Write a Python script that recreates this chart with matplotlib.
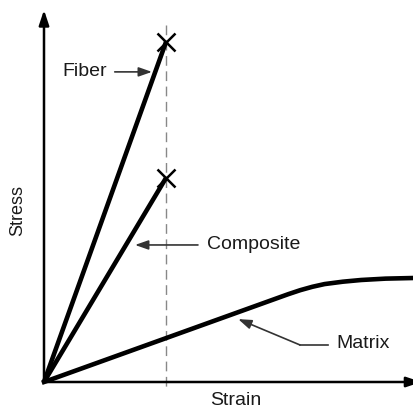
import matplotlib.pyplot as plt

plt.rcParams['font.family'] = ['Liberation Sans', 'DejaVu Sans']

# Data (strain normalised so fiber break = 1, stress so fiber break = 100)
fiber_strain = [0, 1.0]
fiber_stress = [0, 100]

composite_strain = [0, 1.0]
composite_stress = [0, 60]

matrix_strain = [0, 1.0, 2.0, 2.1, 2.2, 2.3, 2.45, 2.6, 2.8, 3.05]
matrix_stress = [0, 12.9, 25.8, 27.0, 28.0, 28.8, 29.5, 30.0, 30.4, 30.6]

fig = plt.figure(figsize=(4.14, 4.11), dpi=100)
ax = fig.add_axes([44 / 414, 29 / 411, 370 / 414, 372 / 411])
ax.set_xlim(0, 3.033)
ax.set_ylim(0, 109.4)
ax.axis("off")

# axes with arrow heads
ax.annotate("", xy=(0, 1.0), xytext=(0, 0), xycoords="axes fraction",
            arrowprops=dict(arrowstyle="-|>,head_length=0.9,head_width=0.3",
                            color="black", lw=1.8, shrinkA=0, shrinkB=0))
ax.annotate("", xy=(1.02, 0), xytext=(0, 0), xycoords="axes fraction",
            annotation_clip=False,
            arrowprops=dict(arrowstyle="-|>,head_length=0.9,head_width=0.3",
                            color="black", lw=1.8, shrinkA=0, shrinkB=0))

# failure strain guide
ax.plot([1.0, 1.0], [105, -2.4], color="#888888", lw=1.0, ls=(0, (7, 4)), clip_on=False)

# curves
ax.plot(fiber_strain, fiber_stress, color="black", lw=3.3, solid_capstyle="butt", clip_on=False)
ax.plot(composite_strain, composite_stress, color="black", lw=3.3, solid_capstyle="butt", clip_on=False)
ax.plot(matrix_strain, matrix_stress, color="black", lw=3.3, clip_on=False)

# fracture points
ax.plot([fiber_strain[-1], composite_strain[-1]], [fiber_stress[-1], composite_stress[-1]],
        "x", color="black", ms=13, mew=1.8)

# labels with pointers
arrow = dict(arrowstyle="-|>,head_length=0.8,head_width=0.28", color="#333333",
             lw=1.2, shrinkA=0, shrinkB=0)
txt = dict(fontsize=14, color="#1a1a1a", va="center")

ax.text(0.148, 91.2, "Fiber", **txt)
ax.annotate("", xy=(0.885, 91.2), xytext=(0.58, 91.2), arrowprops=arrow)

ax.text(1.336, 40.3, "Composite", **txt)
ax.annotate("", xy=(0.746, 40.3), xytext=(1.262, 40.3), arrowprops=arrow)

ax.text(2.393, 11.2, "Matrix", **txt)
ax.plot([2.33, 2.098], [10.9, 10.9], color="#333333", lw=1.2)
ax.annotate("", xy=(1.592, 18.5), xytext=(2.098, 10.9), arrowprops=arrow)

fig.text(18 / 414, 1 - 210 / 411, "Stress", rotation=90, fontsize=13,
         color="#1a1a1a", ha="center", va="center")
fig.text(236 / 414, 1 - 400 / 411, "Strain", fontsize=14,
         color="#1a1a1a", ha="center", va="center")

fig.savefig("out.png", dpi=100)
